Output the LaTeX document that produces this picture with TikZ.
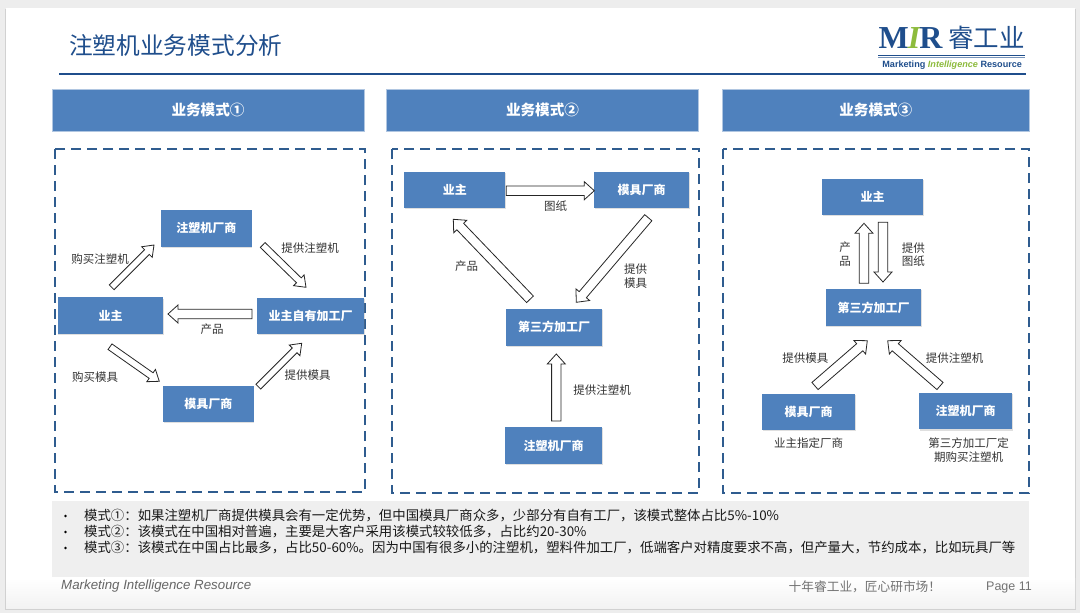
\documentclass[tikz,border=0pt]{standalone}
\usepackage{fontspec}
\setmainfont{Noto Sans CJK SC}
\newfontfamily\latinfont{Liberation Sans}
\newfontfamily\logofont{Liberation Serif}
\usepackage{tikz}
\usetikzlibrary{calc, shadows}

\definecolor{boxblue}{HTML}{4F81BD}
\definecolor{titleblue}{HTML}{1F4E8C}
\definecolor{dashblue}{HTML}{2F5C8F}
\definecolor{logogreen}{HTML}{8DBB3C}
\definecolor{notegray}{HTML}{EFEFEF}

\begin{document}
\begin{tikzpicture}[
  x=1pt, y=-1pt,
  box/.style={fill=boxblue, text=white, minimum height=36.5pt, minimum width=95pt, align=center, font=\fontsize{12}{14}\selectfont\bfseries, inner sep=0pt, drop shadow={shadow xshift=0.6pt, shadow yshift=-1.2pt, opacity=.25}},
  head/.style={fill=boxblue, draw=boxblue!45!white, line width=.5pt, text=white, minimum height=42pt, align=center, font=\fontsize{14.6}{16}\selectfont\bfseries, inner sep=0pt},
  panel/.style={draw=dashblue, line width=2.4pt, dash pattern=on 10pt off 6pt},
  lab/.style={text=black!80, align=center, font=\fontsize{11.5}{13.5}\selectfont, inner sep=0pt},
  note/.style={anchor=west, text=black!90, font=\fontsize{13.4}{16}\selectfont, inner sep=0pt},
  arr/.style 2 args={draw=black!85, fill=white, line width=.8pt, to path={
    ($(\tikztostart)!#1!90:(\tikztotarget)$)
    -- ($(\tikztotarget)!10pt!(\tikztostart)!#1!-90:(\tikztostart)$)
    -- ($(\tikztotarget)!10pt!(\tikztostart)!#2!-90:(\tikztostart)$)
    -- (\tikztotarget)
    -- ($(\tikztotarget)!10pt!(\tikztostart)!#2!90:(\tikztostart)$)
    -- ($(\tikztotarget)!10pt!(\tikztostart)!#1!90:(\tikztostart)$)
    -- ($(\tikztostart)!#1!-90:(\tikztotarget)$) -- cycle}},
  thinarr/.style={arr={3.4pt}{7.5pt}},
  widearr/.style={arr={4.7pt}{9pt}}
]
\useasboundingbox (0,0) rectangle (1080,613);
\fill[black!7] (0,0) rectangle (1080,613);
\fill[black!18] (5,9) rectangle (1076,610);
\fill[white] (6,8) rectangle (1075,608);
\shade[top color=white, bottom color=black!5] (6,578) rectangle (1075,608);

% title and logo
\node[anchor=west, text=titleblue, font=\fontsize{23.7}{26}\selectfont, inner sep=0pt] (title) at (69,45) {注塑机业务模式分析};
\coordinate (ruleL) at (59,73.7);
\coordinate (ruleR) at (1026,73.7);
\draw[titleblue, line width=2pt] (ruleL) -- (ruleR);
\node[anchor=west, inner sep=0pt, font=\logofont\fontsize{32}{32}\selectfont\bfseries, text=titleblue] (logoM) at (878.5,38.5) {M\kern-1pt\textcolor{logogreen}{\itshape I}\kern-1pt R};
\node[anchor=west, inner sep=0pt, font=\fontsize{25.5}{26}\selectfont, text=titleblue] (logoC) at (948,38) {睿工业};
\fill[titleblue] (878,54.5) rectangle (1025,55.7);
\fill[titleblue!60] (878,56.8) rectangle (1025,57.6);
\node[inner sep=0pt, font=\latinfont\fontsize{9.1}{10}\selectfont\bfseries, text=titleblue] (logoT) at (952.2,65) {Marketing \textcolor{logogreen}{\itshape Intelligence} Resource};

% headers
\node[head, minimum width=311.5pt] (headA) at (208,110.3) {业务模式①};
\node[head, minimum width=312pt] (headB) at (542.5,110.3) {业务模式②};
\node[head, minimum width=306.5pt] (headC) at (875.8,110.3) {业务模式③};

% dashed panels
\draw[panel] (55,149) rectangle (365,492);
\draw[panel] (392,149) rectangle (699,493);
\draw[panel] (723,149) rectangle (1029,493);

% mode 1
\node[box, minimum width=90.5pt] (mouldA) at (206.4,228.3) {注塑机厂商};
\node[box, minimum width=105.5pt] (ownerA) at (110.5,315.6) {业主};
\node[box, minimum width=107.5pt] (plantA) at (310.7,316) {业主自有加工厂};
\node[box, minimum width=90.5pt] (toolA) at (208.4,403.8) {模具厂商};
\coordinate (a1s) at (111.7,287.3);
\coordinate (a1t) at (154,245);
\coordinate (a2s) at (262.7,245);
\coordinate (a2t) at (306,287.3);
\coordinate (a3s) at (252,314);
\coordinate (a3t) at (168,314);
\coordinate (a4s) at (110,346.7);
\coordinate (a4t) at (159.3,381.3);
\coordinate (a5s) at (258.3,386.7);
\coordinate (a5t) at (301.7,343.3);
\draw[thinarr] (a1s) to (a1t);
\draw[thinarr] (a2s) to (a2t);
\draw[widearr] (a3s) to (a3t);
\draw[thinarr] (a4s) to (a4t);
\draw[thinarr] (a5s) to (a5t);
\node[lab] (la1) at (100,259.3) {购买注塑机};
\node[lab] (la2) at (310,248.3) {提供注塑机};
\node[lab] (la3) at (212,329.3) {产品};
\node[lab] (la4) at (95,376.7) {购买模具};
\node[lab] (la5) at (307.7,375.3) {提供模具};

% mode 2
\node[box, minimum width=101pt] (ownerB) at (454.8,190) {业主};
\node[box] (toolB) at (641.7,190) {模具厂商};
\node[box, minimum width=95.5pt] (plantB) at (554.2,327.3) {第三方加工厂};
\node[box, minimum width=97pt] (mouldB) at (553.5,445.5) {注塑机厂商};
\coordinate (b1s) at (506.3,190.7);
\coordinate (b1t) at (594.3,190.7);
\coordinate (b2s) at (530,299.3);
\coordinate (b2t) at (453.3,219.3);
\coordinate (b3s) at (648.3,217.7);
\coordinate (b3t) at (576.3,302.3);
\coordinate (b4s) at (556.3,421);
\coordinate (b4t) at (556.3,354);
\draw[widearr] (b1s) to (b1t);
\draw[widearr] (b2s) to (b2t);
\draw[widearr] (b3s) to (b3t);
\draw[widearr] (b4s) to (b4t);
\node[lab] (lb1) at (555.7,205.7) {图纸};
\node[lab] (lb2) at (466.7,266) {产品};
\node[lab] (lb3) at (635.7,276) {提供\\模具};
\node[lab] (lb4) at (602,390) {提供注塑机};

% mode 3
\node[box, minimum width=101pt] (ownerC) at (872.5,197) {业主};
\node[box, minimum width=95.6pt] (plantC) at (873.5,307.5) {第三方加工厂};
\node[box, minimum width=93.3pt] (toolC) at (808.7,411.8) {模具厂商};
\node[box, minimum width=93pt] (mouldC) at (965.5,411.2) {注塑机厂商};
\coordinate (c1s) at (864,283.3);
\coordinate (c1t) at (864,223.3);
\coordinate (c2s) at (883,222.3);
\coordinate (c2t) at (883,282);
\coordinate (c3s) at (815,386);
\coordinate (c3t) at (867.3,340.7);
\coordinate (c4s) at (940,386);
\coordinate (c4t) at (887.7,340.7);
\draw[widearr] (c1s) to (c1t);
\draw[widearr] (c2s) to (c2t);
\draw[widearr] (c3s) to (c3t);
\draw[widearr] (c4s) to (c4t);
\node[lab] (lc1) at (845,254) {产\\品};
\node[lab] (lc2) at (913.3,254.7) {提供\\图纸};
\node[lab] (lc3) at (805.3,358) {提供模具};
\node[lab] (lc4) at (954.7,358) {提供注塑机};
\node[lab] (lc5) at (808.7,442.7) {业主指定厂商};
\node[lab] (lc6) at (968.7,450) {第三方加工厂定\\期购买注塑机};

% notes
\fill[notegray] (52.3,501.3) rectangle (1029,577);
\foreach \y in {516,532,548} \fill[black] (65.5,\y) circle (1.3pt);
\node[note] (n1) at (84,516) {模式①：如果注塑机厂商提供模具会有一定优势，但中国模具厂商众多，少部分有自有工厂，该模式整体占比5\%-10\%};
\node[note] (n2) at (84,532) {模式②：该模式在中国相对普遍，主要是大客户采用该模式较较低多，占比约20-30\%};
\node[note] (n3) at (84,548) {模式③：该模式在中国占比最多，占比50-60\%。因为中国有很多小的注塑机，塑料件加工厂，低端客户对精度要求不高，但产量大，节约成本，比如玩具厂等};

% footer
\node[anchor=west, inner sep=0pt, text=black!60, font=\latinfont\itshape\fontsize{13.3}{14}\selectfont] (foot) at (61,586) {Marketing Intelligence Resource};
\node[anchor=west, inner sep=0pt, text=black!55, font=\fontsize{12.7}{14}\selectfont] (motto) at (788.5,587) {十年睿工业，匠心研市场！};
\node[anchor=east, inner sep=0pt, text=black!55, font=\latinfont\fontsize{12.5}{14}\selectfont] (page) at (1032,587) {Page 11};
\end{tikzpicture}
\end{document}
